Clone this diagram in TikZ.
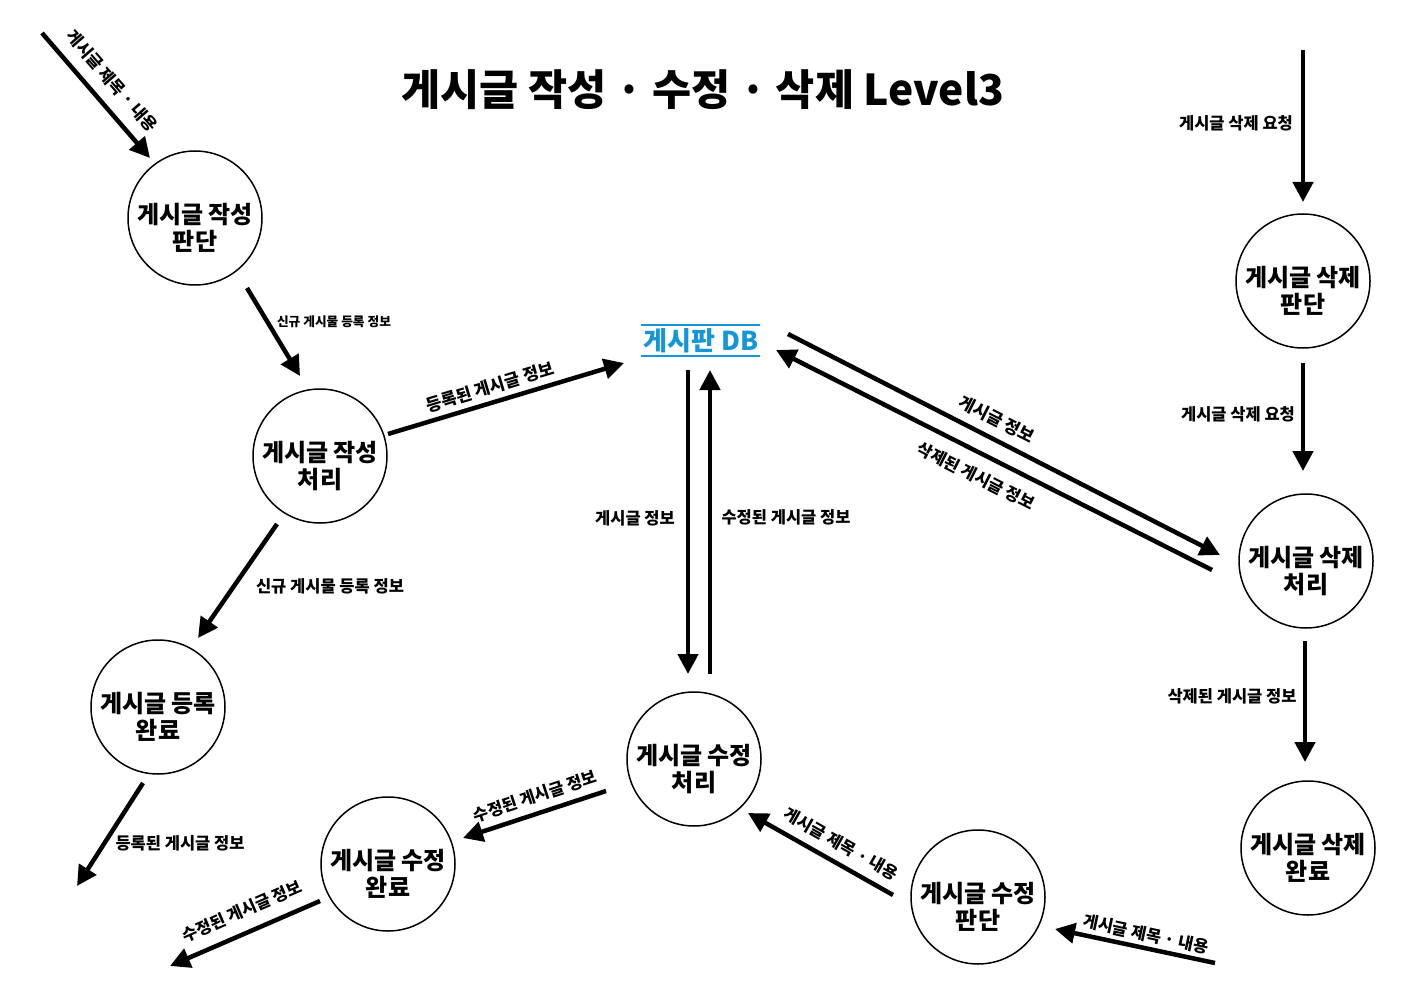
\documentclass[tikz,border=0pt]{standalone}
\usepackage{fontspec}
\setmainfont{Noto Sans CJK KR}
\usetikzlibrary{arrows.meta}
\definecolor{dbblue}{RGB}{20,150,215}
\begin{document}
\begin{tikzpicture}[x=1pt,y=-1pt,
  proc/.style={circle,draw,line width=1.5pt,minimum size=134pt,inner sep=0pt},
  ptext/.style={align=center,inner sep=0pt,yshift=-10pt,
    font=\fontsize{24}{27}\selectfont\bfseries},
  flow/.style={line width=4.5pt,-{Triangle[length=20pt,width=20pt]}},
  lbl/.style={font=\fontsize{16.5}{19}\selectfont\bfseries,inner sep=1pt},
  slbl/.style={font=\fontsize{12.7}{15}\selectfont\bfseries,inner sep=1pt},
  rlbl/.style={font=\fontsize{17}{20}\selectfont\bfseries,inner sep=1pt}]
\useasboundingbox (0,0) rectangle (1403,992);
\fill[white] (0,0) rectangle (1403,992);

\node[font=\fontsize{42.5}{50}\selectfont\bfseries] (title) at (703,90) {게시글 작성 · 수정 · 삭제 Level3};

% processes
\node[proc,label={[ptext]center:게시글 작성\\판단}] (wj) at (195,218) {};
\node[proc,label={[ptext]center:게시글 작성\\처리}] (wc) at (320,456) {};
\node[proc,label={[ptext]center:게시글 등록\\완료}] (rd) at (158,707) {};
\node[proc,label={[ptext]center:게시글 수정\\완료}] (md) at (388,864) {};
\node[proc,label={[ptext]center:게시글 수정\\처리}] (mc) at (694,759) {};
\node[proc,label={[ptext]center:게시글 수정\\판단}] (mj) at (978,897) {};
\node[proc,label={[ptext]center:게시글 삭제\\판단}] (dj) at (1303,281) {};
\node[proc,label={[ptext]center:게시글 삭제\\처리}] (dc) at (1306,561) {};
\node[proc,label={[ptext]center:게시글 삭제\\완료}] (dd) at (1308,848) {};

% data store
\node[font=\fontsize{26}{30}\selectfont\bfseries,text=dbblue] (db) at (701,341) {게시판 DB};
\draw[dbblue,line width=1.8pt] (641,325) -- (760,325);
\draw[dbblue,line width=1.8pt] (641,356) -- (760,356);

% coordinates
\coordinate (a1s) at (42,33);   \coordinate (a1e) at (150,158);
\coordinate (a2s) at (247,288); \coordinate (a2e) at (300,376);
\coordinate (a3s) at (388,434); \coordinate (a3e) at (624,363);
\coordinate (a4s) at (688,370); \coordinate (a4e) at (688,674);
\coordinate (a5s) at (710,674); \coordinate (a5e) at (710,370);
\coordinate (a6s) at (788,334); \coordinate (a6e) at (1220,555);
\coordinate (a7s) at (1212,570);\coordinate (a7e) at (776,350);
\coordinate (a8s) at (1303,50); \coordinate (a8e) at (1303,202);
\coordinate (a9s) at (1303,363);\coordinate (a9e) at (1303,471);
\coordinate (a10s) at (1305,641);\coordinate (a10e) at (1305,762);
\coordinate (a11s) at (277,524);\coordinate (a11e) at (198,638);
\coordinate (a12s) at (143,783);\coordinate (a12e) at (77,886);
\coordinate (a13s) at (606,791);\coordinate (a13e) at (463,838);
\coordinate (a14s) at (320,901);\coordinate (a14e) at (170,966);
\coordinate (a15s) at (893,895);\coordinate (a15e) at (748,813);
\coordinate (a16s) at (1215,963);\coordinate (a16e) at (1055,929);

\foreach \i in {1,...,16} {\draw[flow] (a\i s) -- (a\i e);}

% labels
\node[lbl,rotate=-49] (l1) at (112,81) {게시글 제목 · 내용};
\node[slbl] (l2) at (334,322) {신규 게시물 등록 정보};
\node[rlbl,rotate=16.7] (l3) at (490,387) {등록된 게시글 정보};
\node[lbl] (l4) at (635,518) {게시글 정보};
\node[lbl] (l5) at (786,517) {수정된 게시글 정보};
\node[rlbl,rotate=-27] (l6) at (997,419) {게시글 정보};
\node[lbl,rotate=-27] (l7) at (976,476) {삭제된 게시글 정보};
\node[lbl] (l8) at (1236,123) {게시글 삭제 요청};
\node[lbl] (l9) at (1238,414) {게시글 삭제 요청};
\node[lbl] (l10) at (1232,696) {삭제된 게시글 정보};
\node[lbl] (l11) at (330,586) {신규 게시물 등록 정보};
\node[lbl] (l12) at (180,843) {등록된 게시글 정보};
\node[lbl,rotate=18.2] (l13) at (535,796) {수정된 게시글 정보};
\node[lbl,rotate=23.4] (l14) at (242,911) {수정된 게시글 정보};
\node[lbl,rotate=-29.5] (l15) at (841,844) {게시글 제목 · 내용};
\node[lbl,rotate=-12] (l16) at (1146,934) {게시글 제목 · 내용};
\end{tikzpicture}
\end{document}
